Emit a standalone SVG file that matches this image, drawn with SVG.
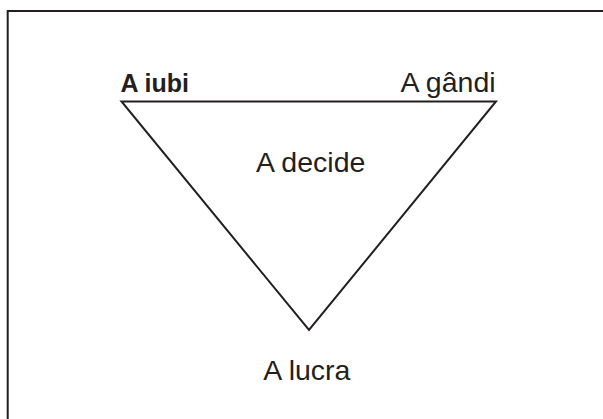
<svg xmlns="http://www.w3.org/2000/svg" width="603" height="419" viewBox="0 0 603 419">
<style>
.t{font-family:"Liberation Sans",Arial,sans-serif;font-size:28.5px;fill:#231f20}
.b{font-weight:bold;font-size:25px}
.ln{fill:none;stroke:#231f20;stroke-width:2}
</style>
<rect width="603" height="419" fill="#fff"/>
<g id="frame"><path class="ln" d="M7.7,425 V11 H610"/></g>
<g id="connectors"><path class="ln" d="M121.5,101.5 H496 L309,330 Z" stroke-linejoin="miter"/></g>
<g id="n-iubi"><text class="t b" x="120.5" y="92">A iubi</text></g>
<g id="n-gandi"><text class="t" x="400.5" y="92">A gândi</text></g>
<g id="n-decide"><text class="t" x="256" y="172.3">A decide</text></g>
<g id="n-lucra"><text class="t" x="263.3" y="380">A lucra</text></g>
</svg>
